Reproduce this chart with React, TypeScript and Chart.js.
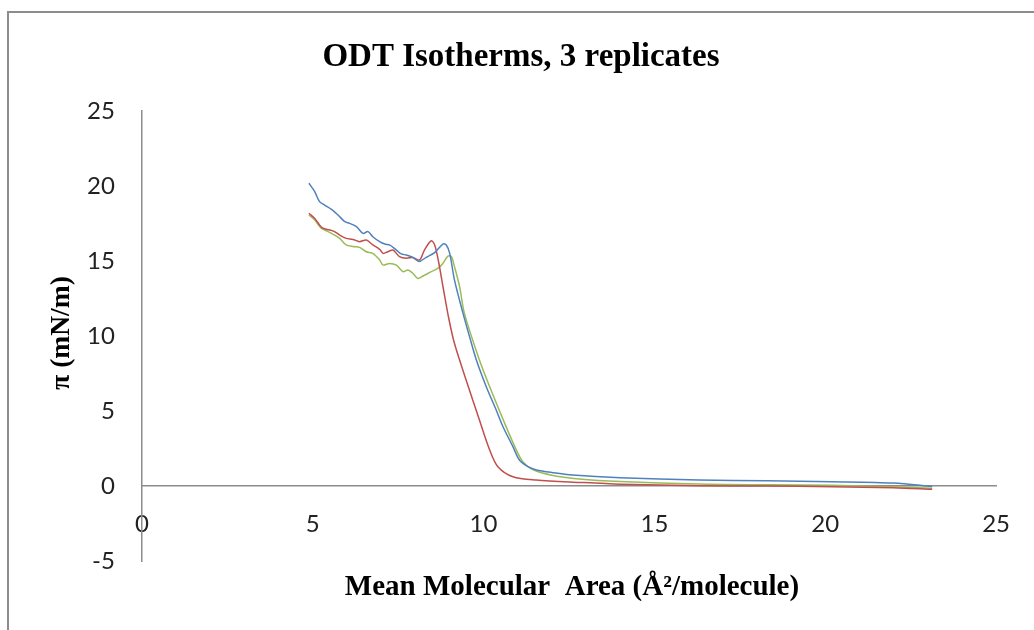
import React, { useEffect, useRef } from "react";
import { Chart, registerables } from "chart.js";

Chart.register(...registerables);

const chartTitle = "ODT Isotherms, 3 replicates";
const xAxisTitle = "Mean Molecular  Area (Å²/molecule)";
const yAxisTitle = "π (mN/m)";

const blueX = [4.89, 5.06, 5.2, 5.35, 5.55, 5.74, 5.94, 6.08, 6.28, 6.47, 6.62, 6.76, 6.96, 7.11, 7.25, 7.45, 7.59, 7.74, 7.93, 8.11, 8.32, 8.57, 8.81, 8.91, 9.01, 9.15, 9.4, 9.59, 9.79, 10.08, 10.37, 10.57, 10.86, 11.05, 11.3, 11.55, 12.03, 12.6, 14, 16.3, 18.3, 20.2, 22, 23.13];
const blueY = [20.18, 19.62, 18.96, 18.73, 18.44, 18.07, 17.62, 17.51, 17.29, 16.84, 16.96, 16.62, 16.29, 16.13, 16.07, 15.73, 15.47, 15.4, 15.24, 14.96, 15.24, 15.56, 16.13, 16.07, 15.51, 13.73, 11.51, 9.96, 8.4, 6.62, 5.07, 3.95, 2.62, 1.73, 1.29, 1.07, 0.89, 0.73, 0.55, 0.4, 0.35, 0.29, 0.2, -0.04];

const redX = [4.89, 5.06, 5.2, 5.3, 5.5, 5.64, 5.79, 5.98, 6.18, 6.37, 6.57, 6.76, 6.96, 7.06, 7.2, 7.35, 7.54, 7.74, 7.93, 8.13, 8.27, 8.47, 8.57, 8.68, 8.82, 8.98, 9.15, 9.49, 9.88, 10.18, 10.42, 10.86, 11.54, 12.81, 14, 16.3, 18.3, 20.2, 22, 23.13];
const redY = [18.18, 17.84, 17.4, 17.18, 17.07, 16.96, 16.73, 16.51, 16.44, 16.29, 16.4, 16.07, 15.78, 15.51, 15.62, 15.73, 15.29, 15.18, 15.24, 15.07, 15.73, 16.35, 16.07, 15.0, 13.2, 11.2, 9.5, 7.07, 4.4, 2.4, 1.29, 0.62, 0.4, 0.24, 0.12, 0.02, 0.0, -0.05, -0.12, -0.22];

const greenX = [4.89, 5.06, 5.25, 5.45, 5.64, 5.79, 5.98, 6.18, 6.37, 6.57, 6.76, 6.96, 7.06, 7.25, 7.45, 7.64, 7.79, 7.93, 8.08, 8.23, 8.47, 8.66, 8.81, 8.96, 9.06, 9.15, 9.3, 9.44, 9.88, 10.18, 10.66, 10.96, 11.15, 11.44, 12.03, 12.8, 14, 16.3, 18.3, 20.2, 22, 23.13];
const greenY = [18.07, 17.73, 17.18, 16.96, 16.73, 16.51, 16.07, 15.96, 15.91, 15.62, 15.51, 15.07, 14.73, 14.84, 14.73, 14.29, 14.4, 14.18, 13.84, 14.0, 14.29, 14.51, 14.84, 15.33, 15.29, 14.62, 13.29, 11.51, 8.4, 6.62, 3.96, 2.4, 1.62, 1.1, 0.7, 0.47, 0.3, 0.13, 0.08, 0.05, -0.05, -0.15];

const xTicks = [0, 5, 10, 15, 20, 25];
const yTicks = [-5, 0, 5, 10, 15, 20, 25];

const toPoints = (xs: number[], ys: number[]) => xs.map((x, i) => ({ x, y: ys[i] }));

const decorPlugin = {
  id: "decor",
  afterDraw(chart: any) {
    const ctx = chart.ctx as CanvasRenderingContext2D;
    ctx.save();
    ctx.strokeStyle = "#8c8c8c";
    ctx.lineWidth = 2;
    ctx.strokeRect(8, 12, 1040, 640);
    ctx.fillStyle = "#000";
    ctx.textAlign = "center";
    ctx.textBaseline = "alphabetic";
    ctx.font = "bold 33px 'Liberation Serif'";
    ctx.fillText(chartTitle, 521, 66);
    ctx.font = "bold 29px 'Liberation Serif'";
    ctx.fillText(xAxisTitle, 572, 595);
    ctx.font = "bold 27.5px 'Liberation Serif'";
    ctx.translate(69, 333);
    ctx.rotate(-Math.PI / 2);
    ctx.fillText(yAxisTitle, 0, 0);
    ctx.restore();
  },
};

export default function App() {
  const ref = useRef<HTMLCanvasElement | null>(null);
  useEffect(() => {
    document.body.style.margin = "0";
    const canvas = ref.current;
    if (!canvas) return;
    const tickFont = { family: "Lato", size: 24 };
    const chart = new Chart(canvas, {
      type: "scatter",
      data: {
        datasets: [
          { label: "Replicate 1", data: toPoints(blueX, blueY), borderColor: "#4F81BD", showLine: true, pointRadius: 0, borderWidth: 1.5, tension: 0.3 },
          { label: "Replicate 2", data: toPoints(redX, redY), borderColor: "#C0504D", showLine: true, pointRadius: 0, borderWidth: 1.5, tension: 0.3 },
          { label: "Replicate 3", data: toPoints(greenX, greenY), borderColor: "#9BBB59", showLine: true, pointRadius: 0, borderWidth: 1.5, tension: 0.3 },
        ],
      },
      options: {
        animation: false,
        responsive: false,
        layout: { padding: { left: 60, right: 37, top: 111, bottom: 69 } },
        plugins: { legend: { display: false }, tooltip: { enabled: false }, title: { display: false } },
        scales: {
          x: {
            type: "linear",
            min: 0,
            max: 25,
            position: { y: 0 } as any,
            afterBuildTicks: (s: any) => { s.ticks = xTicks.map((v) => ({ value: v })); },
            ticks: { font: tickFont, color: "#222", padding: 24, maxRotation: 0 },
            grid: { display: false, drawTicks: false },
            border: { display: true, color: "#8c8c8c", width: 1.5 },
          },
          y: {
            type: "linear",
            min: -5,
            max: 25,
            position: "left",
            afterBuildTicks: (s: any) => { s.ticks = yTicks.map((v) => ({ value: v })); },
            ticks: { font: tickFont, color: "#222", padding: 27 },
            grid: { display: false, drawTicks: false },
            border: { display: true, color: "#8c8c8c", width: 1.5 },
          },
        },
      },
      plugins: [decorPlugin],
    });
    return () => chart.destroy();
  }, []);
  return (
    <div style={{ position: "absolute", left: 0, top: 0, background: "#fff" }}>
      <canvas ref={ref} width={1034} height={630} />
    </div>
  );
}
